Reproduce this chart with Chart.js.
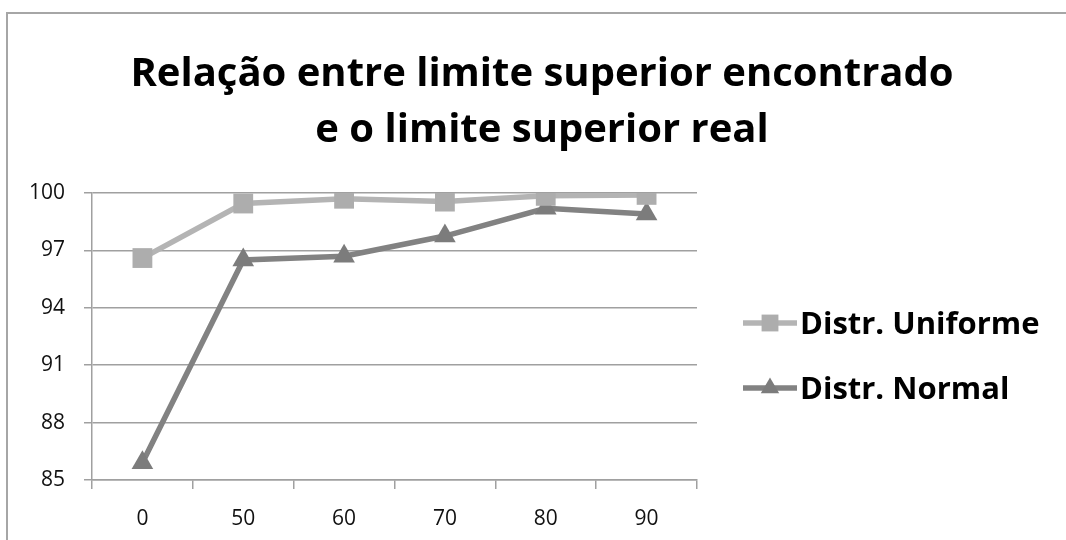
<!DOCTYPE html>
<html>
<head>
<meta charset="utf-8">
<script src="https://cdn.jsdelivr.net/npm/chart.js@4.4.1/dist/chart.umd.min.js"></script>
<style>
  html, body { margin: 0; padding: 0; background: #ffffff; }
  #wrap { width: 1066px; height: 540px; position: relative; }
</style>
</head>
<body>
<div id="wrap"><canvas id="c" width="1066" height="540"></canvas></div>
<script>
// Percentual alcançado do limite superior real, por cenário
const categories = ['0', '50', '60', '70', '80', '90'];
const uniforme = [96.6, 99.45, 99.7, 99.55, 99.85, 99.9];
const normal = [85.9, 96.5, 96.7, 97.75, 99.2, 98.9];
const yTicks = [85, 88, 91, 94, 97, 100];
const titleLines = ['Relação entre limite superior encontrado', 'e o limite superior real'];
const seriesNames = ['Distr. Uniforme', 'Distr. Normal'];

const FONT = "'Open Sans', 'DejaVu Sans', sans-serif";

// Moldura, título e legenda desenhados sobre o canvas
const decorations = {
  id: 'decorations',
  beforeDraw(chart) {
    const ctx = chart.ctx;
    ctx.save();
    ctx.fillStyle = '#ffffff';
    ctx.fillRect(0, 0, chart.width, chart.height);
    ctx.strokeStyle = '#a6a6a6';
    ctx.lineWidth = 2;
    ctx.strokeRect(7, 13, chart.width + 20, chart.height + 20);
    ctx.restore();
  },
  afterDraw(chart) {
    const ctx = chart.ctx;
    ctx.save();
    ctx.fillStyle = '#000000';
    ctx.font = 'bold 40px ' + FONT;
    ctx.textAlign = 'center';
    ctx.textBaseline = 'middle';
    ctx.fillText(titleLines[0], 542, 75);
    ctx.fillText(titleLines[1], 542, 131);

    const rows = [323, 388];
    chart.data.datasets.forEach((ds, i) => {
      const y = rows[i];
      ctx.strokeStyle = ds.borderColor;
      ctx.lineWidth = ds.borderWidth;
      ctx.beginPath();
      ctx.moveTo(743, y);
      ctx.lineTo(797, y);
      ctx.stroke();
      ctx.fillStyle = ds.pointBackgroundColor;
      ctx.strokeStyle = ds.pointBackgroundColor;
      Chart.helpers.drawPoint(ctx, {
        pointStyle: ds.pointStyle,
        radius: ds.pointRadius * 0.85,
        borderWidth: 0,
        rotation: 0
      }, 770, y);
      ctx.fillStyle = '#000000';
      ctx.font = 'bold 31px ' + FONT;
      ctx.textAlign = 'left';
      ctx.textBaseline = 'middle';
      ctx.fillText(ds.label, 800, y + 2);
    });
    ctx.restore();
  }
};

new Chart(document.getElementById('c'), {
  type: 'line',
  data: {
    labels: categories,
    datasets: [
      {
        label: seriesNames[0],
        data: uniforme,
        borderColor: '#b4b4b4',
        borderWidth: 5.5,
        pointStyle: 'rect',
        pointRadius: 14,
        pointBackgroundColor: '#adadad',
        pointBorderWidth: 0,
        tension: 0
      },
      {
        label: seriesNames[1],
        data: normal,
        borderColor: '#828282',
        borderWidth: 5.5,
        pointStyle: 'triangle',
        pointRadius: 12.5,
        pointBackgroundColor: '#7c7c7c',
        pointBorderWidth: 0,
        tension: 0
      }
    ]
  },
  options: {
    responsive: false,
    animation: false,
    devicePixelRatio: 1,
    layout: { padding: { left: 0, right: 369, top: 193, bottom: 0 } },
    plugins: {
      legend: { display: false },
      title: { display: false },
      tooltip: { enabled: false }
    },
    scales: {
      x: {
        type: 'category',
        offset: true,
        grid: {
          offset: true,
          drawOnChartArea: false,
          drawTicks: true,
          tickLength: 9,
          color: '#a0a0a0',
          lineWidth: 1.5
        },
        border: { display: true, color: '#a0a0a0', width: 1.5 },
        ticks: {
          color: '#111111',
          font: { family: FONT, size: 21 },
          padding: 17,
          maxRotation: 0
        },
        afterFit(scale) { scale.height = 60; }
      },
      y: {
        min: 85,
        max: 100,
        afterBuildTicks(scale) { scale.ticks = yTicks.map(v => ({ value: v })); },
        grid: {
          color: '#a0a0a0',
          lineWidth: 1.5,
          drawTicks: true,
          tickLength: 8
        },
        border: { display: true, color: '#a0a0a0', width: 1.5 },
        ticks: {
          color: '#111111',
          font: { family: FONT, size: 21 },
          padding: 19
        },
        afterFit(scale) { scale.width = 92; }
      }
    }
  },
  plugins: [decorations]
});
</script>
</body>
</html>
